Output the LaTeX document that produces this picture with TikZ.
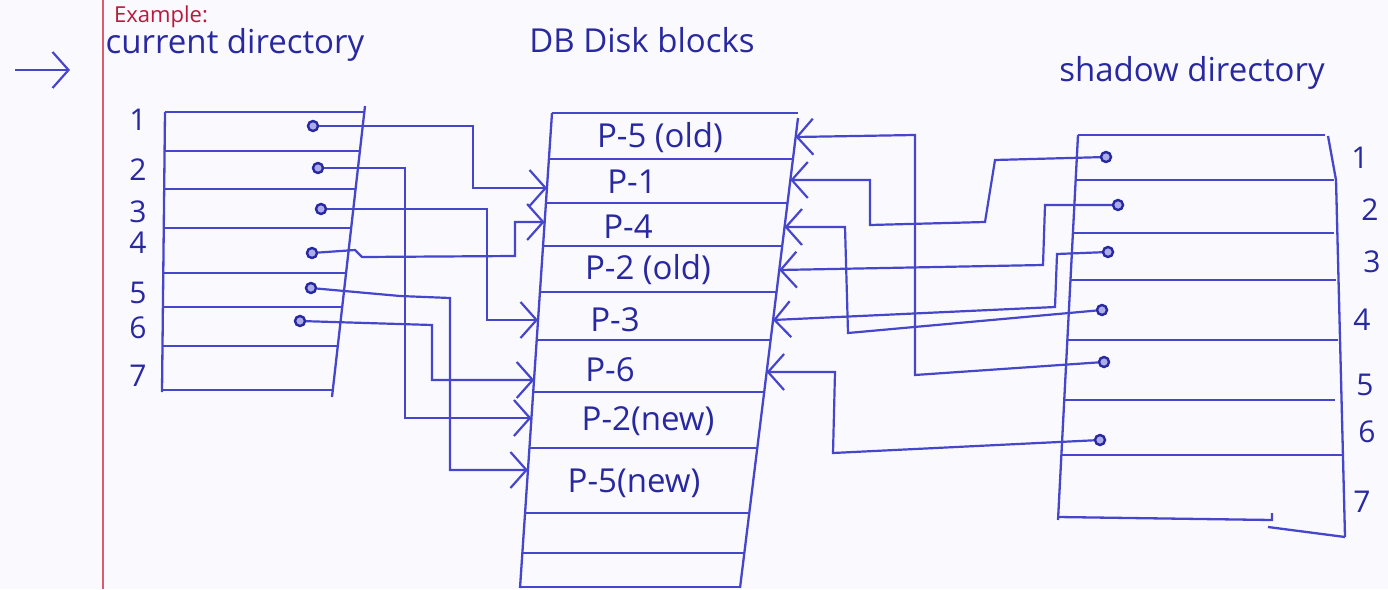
\documentclass[tikz,border=0pt]{standalone}
\usepackage{fontspec}
\setmainfont{Open Sans}
\usetikzlibrary{arrows.meta}
\definecolor{ink}{RGB}{70,70,205}
\definecolor{inktext}{RGB}{40,40,160}
\definecolor{paper}{RGB}{250,249,253}
\definecolor{marginred}{RGB}{220,90,110}
\definecolor{redink}{RGB}{185,25,60}
\begin{document}
\begin{tikzpicture}[x=1pt,y=-1pt,
  ln/.style={ink, line width=2.3pt},
  conn/.style={ink, line width=2.2pt, -{Straight Barb[length=16pt,width=36pt,line width=2.2pt]}},
  dotn/.style={circle, draw=inktext, fill=ink!45, line width=2.4pt, inner sep=0pt, minimum size=10pt},
  title/.style={inktext, font=\fontsize{33}{38}\selectfont, inner sep=0pt},
  pagelbl/.style={inktext, font=\fontsize{33}{38}\selectfont, inner sep=0pt},
  numlbl/.style={inktext, font=\fontsize{30}{34}\selectfont, inner sep=0pt}]
\useasboundingbox (0,0) rectangle (1388,589);
\clip (0,0) rectangle (1388,589);
\fill[paper] (0,0) rectangle (1388,589);
% margin
\draw[marginred, line width=1.4pt] (103,0) -- (103,589);
\node[redink, font=\fontsize{22}{26}\selectfont, anchor=base west, inner sep=0pt] (ex) at (114,22) {Example:};
% left pointer
\coordinate (pa) at (15,70);
\coordinate (pb) at (70,70);
\draw[conn] (pa) -- (pb);
% titles
\node[title] (tcd) at (235,45) {current directory};
\node[title] (tdb) at (642,40) {DB Disk blocks};
\node[title] (tsd) at (1192,73) {shadow directory};

% ---------------- current directory table
\draw[ln] (165,112) -- (162,392);
\draw[ln] (365,106) -- (332,397);
\foreach \y/\a/\b in {112/165/364.8,151/164.6/360.3,189/164.2/355.9,228/163.8/351.3,273/163.3/346.1,307/162.9/342.2,346/162.5/337.7,390/162/332.6}
  \draw[ln] (\a,\y) -- (\b,\y);
\foreach \n/\y in {1/120,2/170,3/212,4/243,5/293,6/328,7/376}
  \node[numlbl] (cdn\n) at (138,\y) {\n};

% ---------------- DB disk blocks table
\draw[ln] (552,113) -- (520,588);
\draw[ln] (798,118) -- (740,588);
\foreach \y/\a/\b in {113/552/798,159/548.9/792.9,203/545.9/787.5,246/543.0/782.2,292/539.9/776.5,340/536.7/770.5,392/533.2/764.1,448/529.4/757.2,513/525.0/749.1,553/522.3/744.2,587/520/740}
  \draw[ln] (\a,\y) -- (\b,\y);
\node[pagelbl] (p5o) at (660,138) {P-5 (old)};
\node[pagelbl] (p1) at (632,182) {P-1};
\node[pagelbl] (p4) at (628,227) {P-4};
\node[pagelbl] (p2o) at (648,270) {P-2 (old)};
\node[pagelbl] (p3) at (615,320) {P-3};
\node[pagelbl] (p6) at (610,370) {P-6};
\node[pagelbl] (p2n) at (648,421) {P-2(new)};
\node[pagelbl] (p5n) at (634,483) {P-5(new)};
% arrow targets on the disk-block edges
\coordinate (L1) at (547,188);
\coordinate (L4) at (544.6,222);
\coordinate (L3) at (538,320);
\coordinate (L6) at (534.2,380);
\coordinate (L2n) at (531.4,418);
\coordinate (L5n) at (527.9,470);
\coordinate (R5o) at (795.6,137);
\coordinate (R1) at (790.3,180);
\coordinate (R4) at (784.5,227);
\coordinate (R2o) at (779.2,270);
\coordinate (R3) at (773,320);
\coordinate (R6) at (766.6,372);

% ---------------- shadow directory table
\draw[ln] (1078,135) -- (1058,520);
\draw[ln] (1328,136) -- (1336,180) -- (1345,537);
\foreach \y/\a/\b in {135/1078/1325,180/1075.7/1334,233/1073/1333.7,280/1070.7/1335.6,340/1067.3/1338,400/1064.5/1335,455/1061.6/1342.6}
  \draw[ln] (\a,\y) -- (\b,\y);
\draw[ln] (1058,517) -- (1272,520) -- (1272,513);
\draw[ln] (1345,537) -- (1268,527);
\foreach \n/\y/\x in {1/158/1360,2/210/1370,3/262/1372,4/320/1362,5/385/1365,6/432/1367,7/502/1362}
  \node[numlbl] (sdn\n) at (\x,\y) {\n};

% ---------------- pointer dots
\node[dotn] (c1) at (313,126) {};
\node[dotn] (c2) at (318,168) {};
\node[dotn] (c3) at (321,209) {};
\node[dotn] (c4) at (312,253) {};
\node[dotn] (c5) at (311,288) {};
\node[dotn] (c6) at (300,321) {};
\node[dotn] (s1) at (1106,157) {};
\node[dotn] (s2) at (1118,205) {};
\node[dotn] (s3) at (1108,252) {};
\node[dotn] (s4) at (1102,310) {};
\node[dotn] (s5) at (1104,362) {};
\node[dotn] (s6) at (1100,440) {};

% ---------------- current directory connectors
\draw[conn] (c1) -- (473,126) -- (473,188) -- (L1);
\draw[conn] (c2) -- (405,168) -- (405,418) -- (L2n);
\draw[conn] (c3) -- (487,209) -- (487,320) -- (L3);
\draw[conn] (c4) -- (355,250) -- (362,257) -- (515,256) -- (515,222) -- (L4);
\draw[conn] (c5) -- (400,296) -- (450,298) -- (450,470) -- (L5n);
\draw[conn] (c6) -- (432,325) -- (432,380) -- (L6);

% ---------------- shadow directory connectors
\draw[conn] (s1) -- (995,160) -- (985,222) -- (870,225) -- (870,180) -- (R1);
\draw[conn] (s2) -- (1045,205) -- (1043,265) -- (R2o);
\draw[conn] (s3) -- (1057,254) -- (1055,307) -- (R3);
\draw[conn] (s4) -- (848,333) -- (845,227) -- (R4);
\draw[conn] (s5) -- (915,375) -- (915,135) -- (R5o);
\draw[conn] (s6) -- (833,453) -- (835,372) -- (R6);
\end{tikzpicture}
\end{document}
